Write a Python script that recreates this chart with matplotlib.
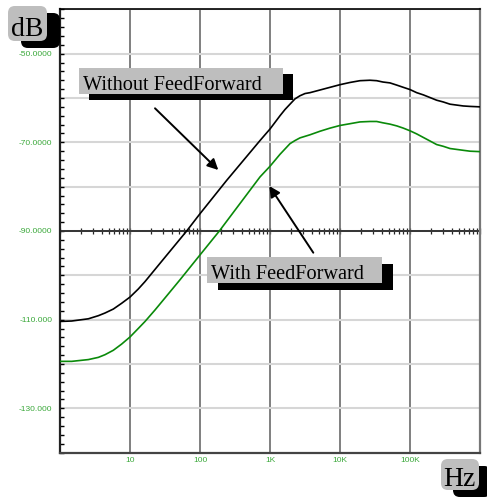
import matplotlib.pyplot as plt
from matplotlib.patches import Rectangle, FancyBboxPatch
from matplotlib.ticker import FixedLocator, LogLocator, MultipleLocator, NullFormatter

# values (Hz, dB)
freq_without = [1, 1.47, 2.54, 3.53, 4.39, 5.78, 7.6, 10, 13.1, 16.4, 26.8, 64.5, 100, 240,
                720, 848, 1000, 1179, 1390, 1638, 1930, 2276, 2680, 3162, 3730, 5180, 7197,
                10000, 13900, 19300, 26800, 33400, 41000, 51800, 64800, 80300, 100000,
                124500, 155000, 193000, 240000, 299000, 373000, 464000, 576000, 720000,
                1000000]
db_without = [-110.4, -110.3, -109.8, -109.1, -108.5, -107.6, -106.3, -104.9, -103.1, -101.4,
              -97.3, -90.0, -86.1, -78.6, -69.6, -68.3, -67.0, -65.5, -64.0, -62.6, -61.4,
              -60.2, -59.5, -59.0, -58.8, -58.2, -57.6, -57.0, -56.5, -56.1, -56.0, -56.1,
              -56.4, -56.6, -57.1, -57.6, -58.1, -58.8, -59.3, -59.9, -60.5, -60.9, -61.4,
              -61.6, -61.8, -61.9, -62.0]

freq_with = [1, 1.47, 2.54, 3.53, 4.39, 5.78, 7.6, 10, 13.1, 16.4, 22.8, 31.6, 51.8, 100,
             189, 720, 1000, 1390, 1930, 2276, 2680, 3730, 5180, 7197, 10000, 13900, 19300,
             26800, 33400, 41000, 51800, 64800, 80300, 100000, 124500, 155000, 193000,
             240000, 299000, 373000, 464000, 576000, 720000, 1000000]
db_with = [-119.4, -119.4, -119.0, -118.5, -117.9, -116.9, -115.5, -113.9, -112.0, -110.4,
           -107.8, -105.1, -101.0, -95.4, -90.0, -77.8, -75.4, -72.7, -70.3, -69.6, -69.0,
           -68.3, -67.5, -66.8, -66.2, -65.8, -65.4, -65.3, -65.3, -65.6, -65.9, -66.3,
           -66.8, -67.4, -68.1, -68.9, -69.7, -70.5, -70.9, -71.4, -71.6, -71.8, -72.0,
           -72.1]

x_ticks = [1, 10, 100, 1000, 10000, 100000, 1000000]
x_labels = ['', '10', '100', '1K', '10K', '100K', '']
y_ticks = [-130, -120, -110, -100, -90, -80, -70, -60, -50, -40]
y_labels = ['-130.000', '', '-110.000', '', '-90.0000', '', '-70.0000', '', '-50.0000', '']

W, H = 487, 497
tick_green = '#3aa83a'
box_grey = '#bebebe'

fig = plt.figure(figsize=(W / 100, H / 100), dpi=100)
ax = fig.add_axes([60 / W, 1 - 452.7 / H, 420 / W, 443.4 / H])

ax.plot(freq_without, db_without, color='black', lw=1.2, zorder=3)
ax.plot(freq_with, db_with, color='#0a8a0a', lw=1.2, zorder=3)

ax.set_xscale('log')
ax.set_xlim(1, 1e6)
ax.set_ylim(-140, -40)

ax.xaxis.set_major_locator(FixedLocator(x_ticks))
ax.set_xticklabels(x_labels)
ax.xaxis.set_minor_locator(FixedLocator([]))
ax.yaxis.set_major_locator(FixedLocator(y_ticks))
ax.set_yticklabels(y_labels)
ax.yaxis.set_minor_locator(MultipleLocator(2))

ax.tick_params(axis='x', which='both', length=0, pad=3, labelsize=6, labelcolor=tick_green)
ax.tick_params(axis='y', which='both', direction='in', length=3, width=1, pad=5.5,
               labelsize=6, labelcolor=tick_green)
for lab in ax.get_xticklabels() + ax.get_yticklabels():
    lab.set_fontfamily('Liberation Sans')

ax.grid(axis='x', which='major', color='#6a6a6a', lw=1.2)
ax.grid(axis='y', which='major', color='#d6d6d6', lw=1.5)
ax.set_axisbelow(True)

ax.spines['left'].set_color('#222222')
ax.spines['left'].set_linewidth(1.6)
ax.spines['top'].set_color('black')
ax.spines['top'].set_linewidth(1.2)
ax.spines['bottom'].set_color('#444444')
ax.spines['bottom'].set_linewidth(1.6)
ax.spines['right'].set_color('#777777')
ax.spines['right'].set_linewidth(1.6)

# middle axis line at -90 dB with log ticks
ax.axhline(-90, color='#333333', lw=1.4, zorder=2.5)
sec = ax.secondary_xaxis(0.5)
sec.xaxis.set_major_locator(FixedLocator(x_ticks))
sec.xaxis.set_minor_locator(LogLocator(base=10, subs=range(2, 10)))
sec.xaxis.set_minor_formatter(NullFormatter())
sec.tick_params(axis='x', which='both', direction='inout', length=4, width=0.9,
                labeltop=False, labelbottom=False, color='#222222')
for s in sec.spines.values():
    s.set_visible(False)


def fx(x):
    return x / W


def fy(y):
    return 1 - y / H


def flat_box(x0, y0, x1, y1, dx, dy):
    fig.add_artist(Rectangle((fx(x0 + dx), fy(y1 + dy)), (x1 - x0) / W, (y1 - y0) / H,
                             transform=fig.transFigure, facecolor='black', zorder=5))
    fig.add_artist(Rectangle((fx(x0), fy(y1)), (x1 - x0) / W, (y1 - y0) / H,
                             transform=fig.transFigure, facecolor=box_grey, zorder=6))


def round_box(x0, y0, x1, y1, dx, dy):
    for off, col, z in [((dx, dy), 'black', 5), ((0, 0), box_grey, 6)]:
        fig.add_artist(FancyBboxPatch((fx(x0 + off[0]), fy(y1 + off[1])),
                                      (x1 - x0) / W, (y1 - y0) / H,
                                      boxstyle='round,pad=0,rounding_size=0.014',
                                      transform=fig.transFigure, facecolor=col,
                                      edgecolor='none', zorder=z))


# axis unit boxes
round_box(8, 6, 47, 41, 13, 7)
fig.text(fx(27), fy(36.5), 'dB', family='Liberation Serif', fontsize=20, ha='center',
         va='baseline', zorder=7)
round_box(441, 459, 479, 490, 12, 7)
fig.text(fx(459), fy(486), 'Hz', family='Liberation Serif', fontsize=20, ha='center',
         va='baseline', zorder=7)

# curve labels
flat_box(79.3, 68.3, 282.7, 94.3, 10, 6)
fig.text(fx(82.7), fy(90), 'Without FeedForward', family='Liberation Serif', fontsize=14.6,
         va='baseline', zorder=7)
flat_box(207.3, 257.3, 381.7, 283.3, 11, 6.5)
fig.text(fx(210.7), fy(278.7), 'With FeedForward', family='Liberation Serif', fontsize=14.6,
         va='baseline', zorder=7)

arrow = dict(arrowstyle='-|>', color='black', lw=1.4, mutation_scale=16, shrinkA=0, shrinkB=0)
ax.annotate('', xy=(218.3, H - 170), xytext=(155, H - 108.3), xycoords='figure pixels',
            textcoords='figure pixels', arrowprops=arrow, annotation_clip=False)
ax.annotate('', xy=(269.3, H - 186), xytext=(313.3, H - 252.7), xycoords='figure pixels',
            textcoords='figure pixels', arrowprops=arrow, annotation_clip=False)

fig.savefig('out.png', dpi=100)
